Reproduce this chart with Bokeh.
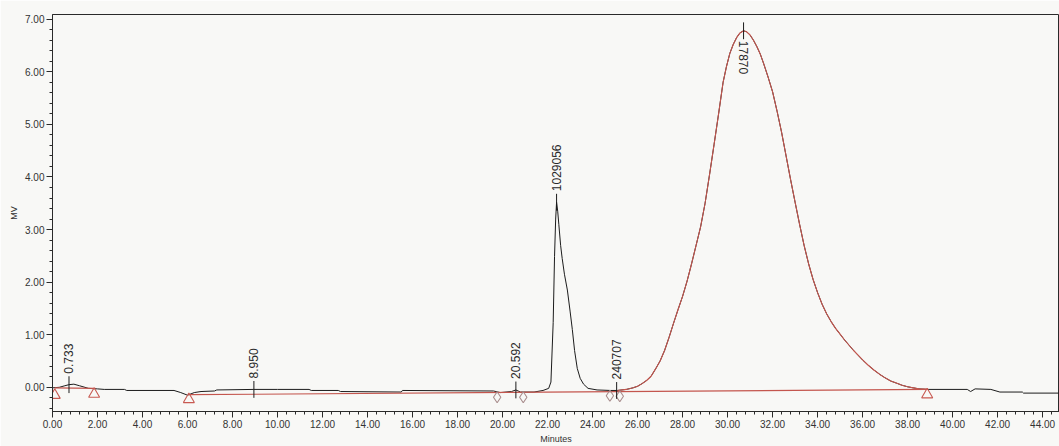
import numpy as np
from bokeh.plotting import figure
from bokeh.models import FixedTicker, NumeralTickFormatter, Range1d, ColumnDataSource
from bokeh.core.properties import value
from bokeh.embed import file_html
from bokeh.resources import INLINE

# Detector trace (minutes, mV)
time_min = [
    0.00, 0.30, 0.55, 0.73, 0.95, 1.20, 1.60, 2.00, 2.30, 3.20, 3.30, 5.40, 5.70,
    6.00, 6.30, 6.60, 7.20, 7.30, 8.95, 10.00, 11.40, 11.50, 12.70, 12.80, 15.50,
    15.55, 19.60, 19.90, 20.40, 20.59, 20.80, 21.40, 21.80, 22.05, 22.15, 22.25,
    22.31, 22.36, 22.40, 22.45, 22.50, 22.58, 22.65, 22.75, 22.88, 23.00, 23.10,
    23.20, 23.32, 23.45, 23.60, 23.80, 24.20, 24.80, 25.10, 25.50, 25.80, 26.00,
    26.20, 26.40, 26.60, 26.80, 27.00, 27.20, 27.40, 27.60, 27.80, 28.00, 28.20,
    28.40, 28.60, 28.80, 29.00, 29.20, 29.40, 29.60, 29.80, 29.95, 30.10, 30.25,
    30.40, 30.55, 30.71, 30.85, 31.00, 31.15, 31.30, 31.45, 31.60, 31.80, 32.00,
    32.20, 32.40, 32.60, 32.80, 33.00, 33.20, 33.40, 33.60, 33.80, 34.00, 34.20,
    34.40, 34.60, 34.80, 35.00, 35.20, 35.40, 35.60, 35.80, 36.00, 36.25, 36.50,
    36.75, 37.00, 37.25, 37.50, 37.75, 38.00, 38.25, 38.50, 38.90, 40.65, 40.80,
    41.00, 41.70, 42.10, 43.10, 43.15, 44.75,
]
signal_mv = [
    -0.01, 0.00, 0.03, 0.05, 0.06, 0.03, -0.02, -0.03, -0.04, -0.04, -0.06, -0.06, -0.10,
    -0.15, -0.10, -0.08, -0.07, -0.05, -0.04, -0.04, -0.04, -0.06, -0.06, -0.08, -0.09,
    -0.06, -0.07, -0.10, -0.08, -0.05, -0.09, -0.09, -0.06, -0.02, 0.10, 1.23,
    2.49, 3.20, 3.52, 3.35, 3.10, 2.70, 2.45, 2.15, 1.85, 1.45, 1.10,
    0.70, 0.36, 0.17, 0.06, -0.02, -0.05, -0.06, -0.06, -0.04, -0.01, 0.02,
    0.07, 0.13, 0.21, 0.35, 0.50, 0.70, 0.95, 1.22, 1.48, 1.73, 2.02,
    2.35, 2.70, 3.05, 3.50, 4.05, 4.62, 5.20, 5.80, 6.10, 6.35, 6.52,
    6.65, 6.74, 6.78, 6.76, 6.70, 6.60, 6.48, 6.34, 6.16, 5.90, 5.62,
    5.25, 4.85, 4.40, 3.95, 3.52, 3.10, 2.70, 2.35, 2.05, 1.80, 1.58,
    1.40, 1.25, 1.12, 1.01, 0.90, 0.80, 0.70, 0.61, 0.52, 0.42, 0.33,
    0.25, 0.18, 0.12, 0.08, 0.04, 0.01, -0.01, -0.03, -0.04, -0.04, -0.08,
    -0.03, -0.04, -0.09, -0.09, -0.11, -0.11,
]

# Integrated main peak window (minutes)
main_peak_start = 25.10
main_peak_end = 38.90

# Drawn baselines
baseline1_t = [0.10, 1.90]
baseline1_v = [-0.01, -0.02]
baseline2_t = [6.05, 38.90]
baseline2_v = [-0.14, -0.04]

# Peak start/end markers
triangle_t = [0.10, 1.85, 6.06, 38.87]
triangle_v = [-0.15, -0.13, -0.23, -0.14]
diamond_t = [19.76, 20.92, 24.77, 25.21]
diamond_v = [-0.19, -0.19, -0.16, -0.17]

# Peak annotations
peak_t = [0.733, 8.950, 20.592, 22.40, 25.07]
peak_labels = ["0.733", "8.950", "20.592", "1029056", "240707"]
top_peak_t = [30.71]
top_peak_labels = ["17870"]

# Axis ticks
x_major = [2.0 * i for i in range(23)]
x_minor = [0.4 * i for i in range(113)]
y_major = [float(i) for i in range(8)]
y_minor = [round(-0.4 + 0.2 * i, 2) for i in range(38)]

FONT = "Liberation Sans"
BG = "#f8f8f6"
RED = "#c4564e"

t_arr = np.array(time_min)
v_arr = np.array(signal_mv)

p = figure(
    width=1059, height=446, output_backend="svg", toolbar_location=None,
    x_range=Range1d(0, 44.75), y_range=Range1d(-0.46, 7.09),
    min_border_left=52, min_border_right=0, min_border_top=14, min_border_bottom=34,
    background_fill_color=BG, border_fill_color=BG,
)
p.grid.visible = False
p.outline_line_color = "#2a2a2a"
p.outline_line_width = 1

# Black detector trace
p.line(time_min, signal_mv, line_color="#1c1c1c", line_width=1)

# Red baselines
p.line(baseline1_t, baseline1_v, line_color=RED, line_width=1.1)
p.line(baseline2_t, baseline2_v, line_color=RED, line_width=1.1)

# Main peak drawn in red over the trace
mask = (t_arr >= main_peak_start) & (t_arr <= main_peak_end)
p.line(t_arr[mask], v_arr[mask], line_color=RED, line_width=1.1)

# Start/end markers
p.scatter(triangle_t, triangle_v, marker="triangle", size=11,
          line_color="#c85a52", fill_color=None, line_width=1.1)
p.scatter(diamond_t, diamond_v, marker="diamond", size=11,
          line_color="#a88c8c", fill_color=None, line_width=1.1)

# Peak tick marks and labels
pv = np.interp(peak_t, t_arr, v_arr)
tv = np.interp(top_peak_t, t_arr, v_arr)
all_t = peak_t + top_peak_t
all_v = list(pv) + list(tv)
p.segment(x0=all_t, y0=[v - 0.16 for v in all_v], x1=all_t, y1=[v + 0.16 for v in all_v],
          line_color="#1c1c1c", line_width=1)

src_up = ColumnDataSource(dict(x=peak_t, y=list(pv), text=peak_labels))
p.text(x="x", y="y", text="text", source=src_up, angle=np.pi / 2,
       text_align="left", text_baseline="middle", y_offset=-11,
       text_font=value(FONT), text_font_size="12px", text_color="#2a2a2a")

src_dn = ColumnDataSource(dict(x=top_peak_t, y=list(tv), text=top_peak_labels))
p.text(x="x", y="y", text="text", source=src_dn, angle=-np.pi / 2,
       text_align="left", text_baseline="middle", y_offset=10,
       text_font=value(FONT), text_font_size="12px", text_color="#2a2a2a")

# Axes
p.xaxis.ticker = FixedTicker(ticks=x_major, minor_ticks=x_minor)
p.yaxis.ticker = FixedTicker(ticks=y_major, minor_ticks=y_minor)
p.xaxis.formatter = NumeralTickFormatter(format="0.00")
p.yaxis.formatter = NumeralTickFormatter(format="0.00")
p.xaxis.axis_label = "Minutes"
p.yaxis.axis_label = "MV"
for ax in (p.xaxis[0], p.yaxis[0]):
    ax.axis_line_color = "#2a2a2a"
    ax.major_tick_line_color = "#2a2a2a"
    ax.minor_tick_line_color = "#2a2a2a"
    ax.major_tick_in = 0
    ax.major_tick_out = 6
    ax.minor_tick_in = 0
    ax.minor_tick_out = 3
    ax.major_label_standoff = 2
    ax.axis_label_standoff = 3
    ax.major_label_text_font = FONT
    ax.major_label_text_font_size = "10px"
    ax.major_label_text_color = "#333333"
    ax.axis_label_text_font = FONT
    ax.axis_label_text_font_size = "9px"
    ax.axis_label_text_font_style = "normal"
    ax.axis_label_text_color = "#333333"

open("out.html", "w").write(file_html(p, INLINE))
